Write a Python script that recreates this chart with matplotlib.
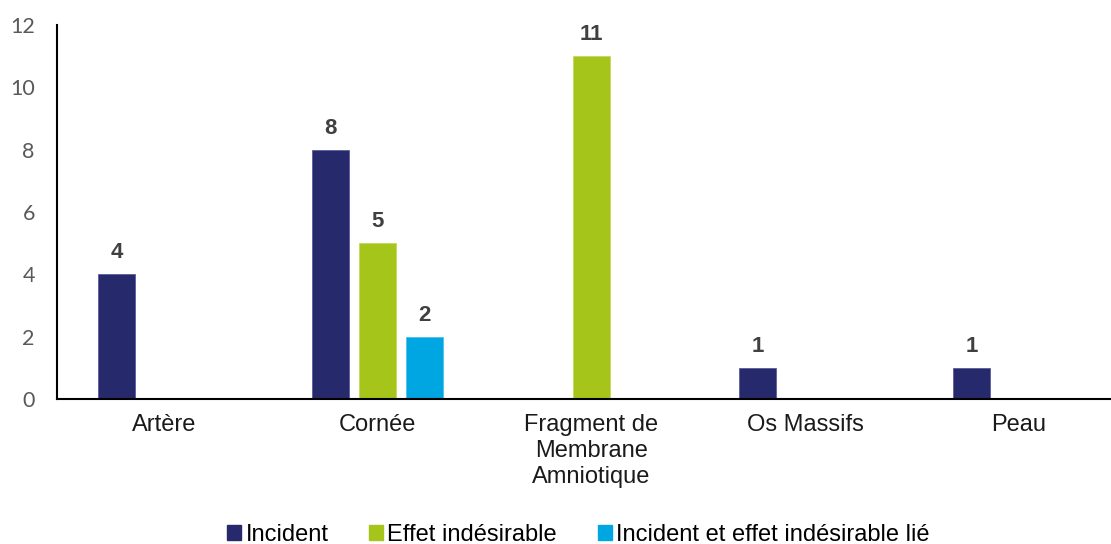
import numpy as np
import matplotlib
matplotlib.use("Agg")
import matplotlib.pyplot as plt
from matplotlib.patches import Patch

plt.rcParams['font.family'] = ['Liberation Sans', 'DejaVu Sans']

categories = ["Artère", "Cornée", "Fragment de\nMembrane\nAmniotique", "Os Massifs", "Peau"]
series_names = ["Incident", "Effet indésirable", "Incident et effet indésirable lié"]
incident = [4, 8, 0, 1, 1]
effet = [0, 5, 11, 0, 0]
incident_lie = [0, 2, 0, 0, 0]
colors = ["#262A6C", "#A5C51A", "#00A6E1"]
edges = ["#5A5E9A", "#C3D95E", "#4DC0EA"]

fig = plt.figure(figsize=(11.11, 5.44), dpi=100)
ax = fig.add_axes([57 / 1111, 1 - 399 / 544, 1 - 57 / 1111, (399 - 25) / 544])

x = np.arange(len(categories))
width = 0.173
step = 0.22
for i, (vals, c, ec) in enumerate(zip([incident, effet, incident_lie], colors, edges)):
    for xi, v in zip(x, vals):
        if v <= 0:
            continue
        pos = xi + (i - 1) * step
        ax.bar(pos, v, width=width, color=c, edgecolor=ec, linewidth=0.6)
        ax.text(pos, v + 0.35, str(v), ha="center", va="bottom",
                fontsize=16, fontweight="bold", color="#404040")

ax.set_xlim(-0.5, 4.432)
ax.set_ylim(0, 12)
ax.set_yticks(range(0, 13, 2))
ax.tick_params(axis="y", length=0, pad=16, labelsize=15.5, labelcolor="#595959")
for lbl in ax.get_yticklabels():
    lbl.set_family(['Lato', 'DejaVu Sans'])
ax.tick_params(axis="x", length=0, pad=11, labelsize=17, labelcolor="#1a1a1a")
ax.set_xticks(x)
ax.set_xticklabels(categories, linespacing=1.23, va="top")
for s in ["top", "right"]:
    ax.spines[s].set_visible(False)
ax.spines["left"].set_linewidth(1.5)
ax.spines["bottom"].set_linewidth(1.5)

handles = [Patch(facecolor=c, edgecolor=c) for c in colors]
fig.legend(handles, series_names, loc="center", bbox_to_anchor=(578.5 / 1111, 1 - 535 / 544),
           ncol=3, frameon=False, fontsize=17, handlelength=0.59, handleheight=0.59,
           handletextpad=0.17, columnspacing=1.74, borderpad=0.1)

fig.savefig("out.png", dpi=100)
